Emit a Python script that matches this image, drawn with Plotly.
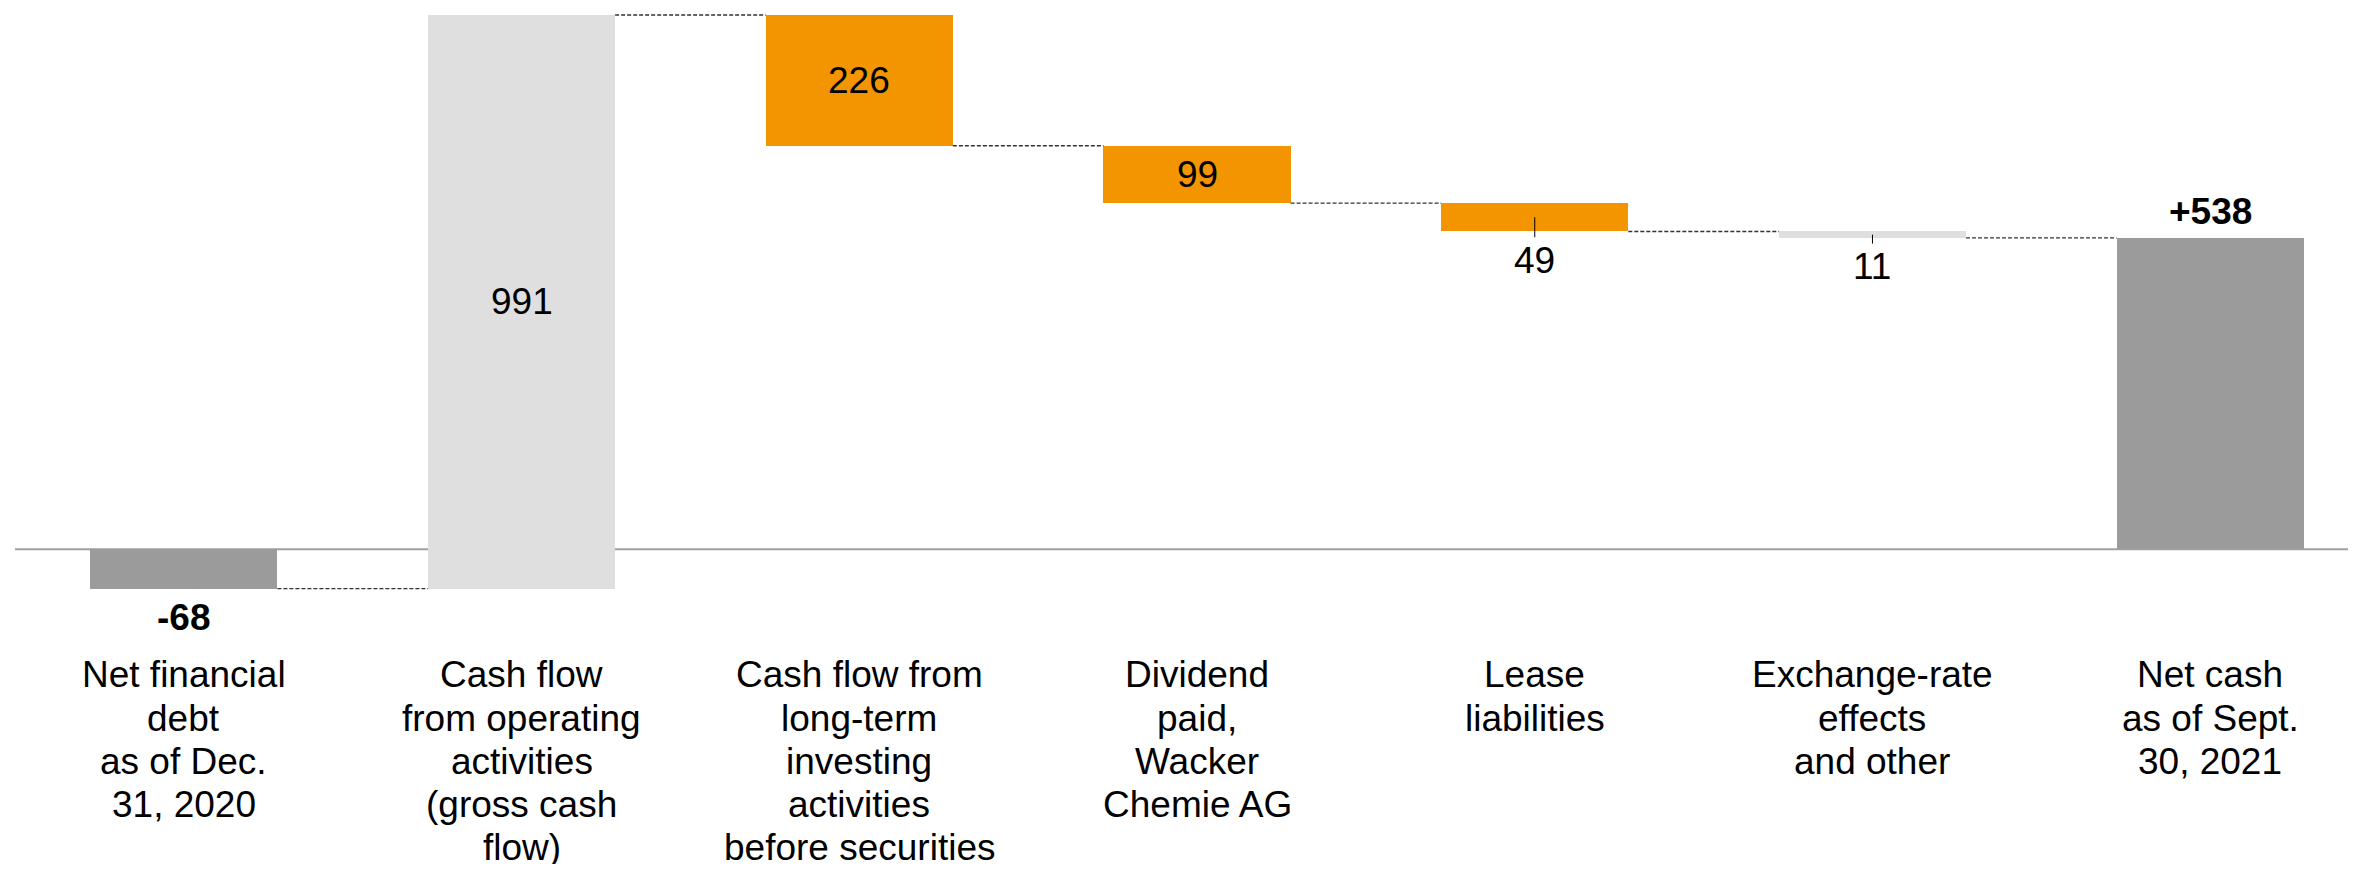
import plotly.graph_objects as go

# ---- data ----
categories = [
    ["Net financial", "debt", "as of Dec.", "31, 2020"],
    ["Cash flow", "from operating", "activities", "(gross cash", "flow)"],
    ["Cash flow from", "long-term", "investing", "activities", "before securities"],
    ["Dividend", "paid,", "Wacker", "Chemie AG"],
    ["Lease", "liabilities"],
    ["Exchange-rate", "effects", "and other"],
    ["Net cash", "as of Sept.", "30, 2021"],
]
measures = ["absolute", "relative", "relative", "relative", "relative", "relative", "total"]
values = [-68, 991, -226, -99, -49, -11, 538]
value_labels = ["-68", "991", "226", "99", "49", "11", "+538"]
label_pos = ["below", "inside", "inside", "inside", "below_tick", "below_tick", "above"]
bold_labels = [True, False, False, False, False, False, True]
colors = ["#9B9B9B", "#DFDFDF", "#F29500", "#F29500", "#F29500", "#DFDFDF", "#9B9B9B"]

# ---- compute bases / heights from data ----
bases, heights, levels = [], [], []
running = 0
for m, v in zip(measures, values):
    if m == "absolute":
        bases.append(0); heights.append(v); running = v
    elif m == "total":
        bases.append(0); heights.append(running)
    else:
        bases.append(running); heights.append(v); running += v
    levels.append(running)

FONT = "Liberation Sans, Arial, sans-serif"
FS = 37
BAR_W = 0.554
x = list(range(len(values)))

fig = go.Figure()
fig.add_trace(go.Bar(
    x=x, y=heights, base=bases, width=BAR_W,
    marker=dict(color=colors, line=dict(width=0)),
    hoverinfo="skip", showlegend=False,
))

shapes = []
# zero line
shapes.append(dict(type="line", xref="paper", yref="y", x0=0, x1=1, y0=0, y1=0,
                   line=dict(color="#A0A0A0", width=2), layer="below"))
# connectors
for i in range(len(values) - 1):
    shapes.append(dict(type="line", xref="x", yref="y",
                       x0=i + BAR_W / 2, x1=i + 1 - BAR_W / 2,
                       y0=levels[i], y1=levels[i],
                       line=dict(color="#333333", width=1.4, dash="4px,2px")))

annotations = []
for i, (lab, pos, b) in enumerate(zip(value_labels, label_pos, bold_labels)):
    lo = min(bases[i], bases[i] + heights[i])
    hi = max(bases[i], bases[i] + heights[i])
    txt = f"<b>{lab}</b>" if b else lab
    if pos == "inside":
        annotations.append(dict(x=i, y=(lo + hi) / 2, text=txt, showarrow=False,
                                yanchor="middle", font=dict(size=FS, color="black", family=FONT)))
    elif pos == "above":
        annotations.append(dict(x=i, y=hi, yshift=26, text=txt, showarrow=False,
                                yanchor="middle", font=dict(size=FS, color="black", family=FONT)))
    else:
        annotations.append(dict(x=i, y=lo, yshift=-29, text=txt, showarrow=False,
                                yanchor="middle", font=dict(size=FS, color="black", family=FONT)))
        if pos == "below_tick":
            shapes.append(dict(type="line", xref="x", yref="y", x0=i, x1=i,
                               y0=(lo + hi) / 2, y1=lo - 10,
                               line=dict(color="black", width=1)))

# category labels (line by line)
LINE_H = 43.2
FIRST = 125.7
for i, lines in enumerate(categories):
    for j, line in enumerate(lines):
        annotations.append(dict(x=i, y=0, yshift=-(FIRST + j * LINE_H), text=line,
                                showarrow=False, yanchor="middle", xanchor="center",
                                font=dict(size=FS, color="black", family=FONT)))

fig.update_layout(
    width=2340, height=856,
    margin=dict(l=7, r=0, t=0, b=264),
    paper_bgcolor="white", plot_bgcolor="white",
    xaxis=dict(range=[-0.5, 6.408], visible=False, fixedrange=True),
    yaxis=dict(range=[-87.6, 935.0], visible=False, fixedrange=True),
    shapes=shapes, annotations=annotations,
    bargap=0, font=dict(family=FONT),
)

fig.write_html("out.html")
